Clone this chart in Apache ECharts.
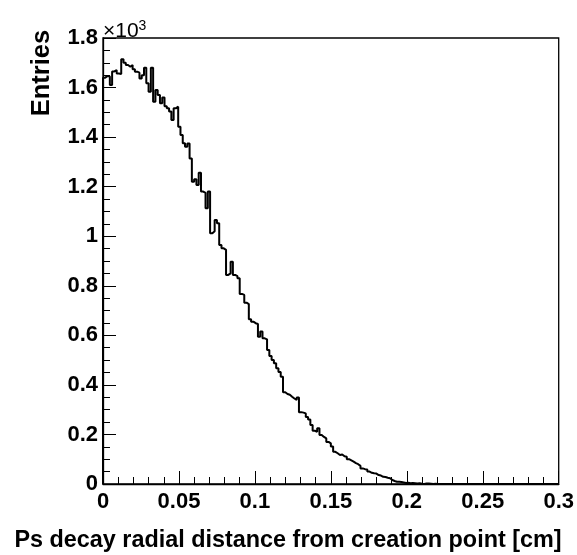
<!DOCTYPE html>
<html>
<head>
<meta charset="utf-8">
<script src="https://cdn.jsdelivr.net/npm/echarts@6/dist/echarts.min.js"></script>
<style>
html,body{margin:0;padding:0;background:#fff;}
#chart{width:577px;height:555px;}
</style>
</head>
<body>
<div id="chart"></div>
<script>
// Histogram: 200 bins of width 0.0015 starting at 0
const binStart = 0;
const binWidth = 0.0015;
const counts = [
 1640,1647,1645,1610,1665,1671,1657,1655,1714,1700,
 1691,1684,1691,1674,1664,1660,1637,1650,1680,1617,
 1583,1680,1543,1590,1570,1537,1560,1525,1516,1503,
 1469,1516,1523,1442,1409,1375,1361,1374,1314,1220,
 1230,1207,1256,1180,1175,1113,1180,1012,1020,1065,
 1052,965,951,945,844,850,897,844,839,830,
 767,763,732,726,665,655,649,646,594,615,
 588,584,541,517,500,487,467,452,433,370,
 363,360,352,345,339,349,290,288,285,270,
 260,238,215,211,225,198,190,184,170,164,
 151,130,124,117,119,112,110,100,95,90,
 84,80,73,63,60,59,50,45,43,42,
 36,34,29,28,25,23,16,12,9,9,
 8,6,4,5,3,4,3,2,3,1,
 0,2,2,1,0,1,0,0,0,0,
 0,0,0,0,0,0,0,0,0,0,
 0,0,0,0,0,0,0,0,0,0,
 0,0,0,0,0,0,0,0,0,0,
 0,0,0,0,0,0,0,0,0,0,
 0,0,0,0,0,0,0,0,0,0
];
const xTickLabels = ['0','0.05','0.1','0.15','0.2','0.25','0.3'];
const yTickLabels = ['0','0.2','0.4','0.6','0.8','1','1.2','1.4','1.6','1.8'];
const xTitle = 'Ps decay radial distance from creation point [cm]';
const yTitle = 'Entries';
const xMin = 0, xMax = 0.3, yMin = 0, yMax = 1800;

// step points: left edges with bin value, then the final right edge
const pts = [[binStart, 0]];
for (let i = 0; i < counts.length; i++) pts.push([binStart + i * binWidth, counts[i]]);
pts.push([binStart + counts.length * binWidth, counts[counts.length - 1]]);

const FONT = 'Liberation Sans';
const chart = echarts.init(document.getElementById('chart'), null, {renderer: 'canvas'});
chart.setOption({
  animation: false,
  backgroundColor: '#ffffff',
  grid: {left: 103, right: 18, top: 38, bottom: 71, show: true, borderColor: '#000', borderWidth: 1.3, backgroundColor: 'transparent'},
  xAxis: {
    type: 'value', min: xMin, max: xMax, interval: 0.05,
    axisLine: {show: true, lineStyle: {color: '#000', width: 1.3}},
    axisTick: {show: true, inside: true, length: 13, lineStyle: {color: '#000', width: 1}},
    minorTick: {show: true, splitNumber: 5, length: 7, lineStyle: {color: '#000', width: 1}},
    splitLine: {show: false},
    axisLabel: {
      margin: 7, color: '#000', fontFamily: FONT, fontWeight: 'bold', fontSize: 22,
      formatter: (v) => xTickLabels[Math.round(v / 0.05)] ?? ''
    }
  },
  yAxis: {
    type: 'value', min: yMin, max: yMax, interval: 200,
    axisLine: {show: true, lineStyle: {color: '#000', width: 1.3}},
    axisTick: {show: true, inside: true, length: 13, lineStyle: {color: '#000', width: 1}},
    minorTick: {show: true, splitNumber: 4, length: 7, lineStyle: {color: '#000', width: 1}},
    splitLine: {show: false},
    axisLabel: {
      margin: 5, color: '#000', fontFamily: FONT, fontWeight: 'bold', fontSize: 22,
      formatter: (v) => yTickLabels[Math.round(v / 200)] ?? ''
    }
  },
  graphic: [
    {type: 'text', left: 103, top: 19, style: {
      text: '{a|×10}{b|3}', rich: {
        a: {fontFamily: FONT, fontSize: 21, fill: '#000', fontWeight: 'normal'},
        b: {fontFamily: FONT, fontSize: 14, fill: '#000', verticalAlign: 'top', padding: [0,0,10,0]}
      }}},
    {type: 'text', x: 42, y: 73, rotation: Math.PI / 2, style: {
      text: yTitle, fontFamily: FONT, fontWeight: 'bold', fontSize: 25.5, fill: '#000',
      align: 'center', verticalAlign: 'middle'}},
    {type: 'text', x: 288, y: 541, style: {
      text: xTitle, fontFamily: FONT, fontWeight: 'bold', fontSize: 23.4, fill: '#000',
      align: 'center', verticalAlign: 'middle'}}
  ],
  series: [{
    type: 'line', step: 'end', data: pts, showSymbol: false, symbol: 'none',
    lineStyle: {color: '#000', width: 2}, z: 3
  }]
});
</script>
</body>
</html>
